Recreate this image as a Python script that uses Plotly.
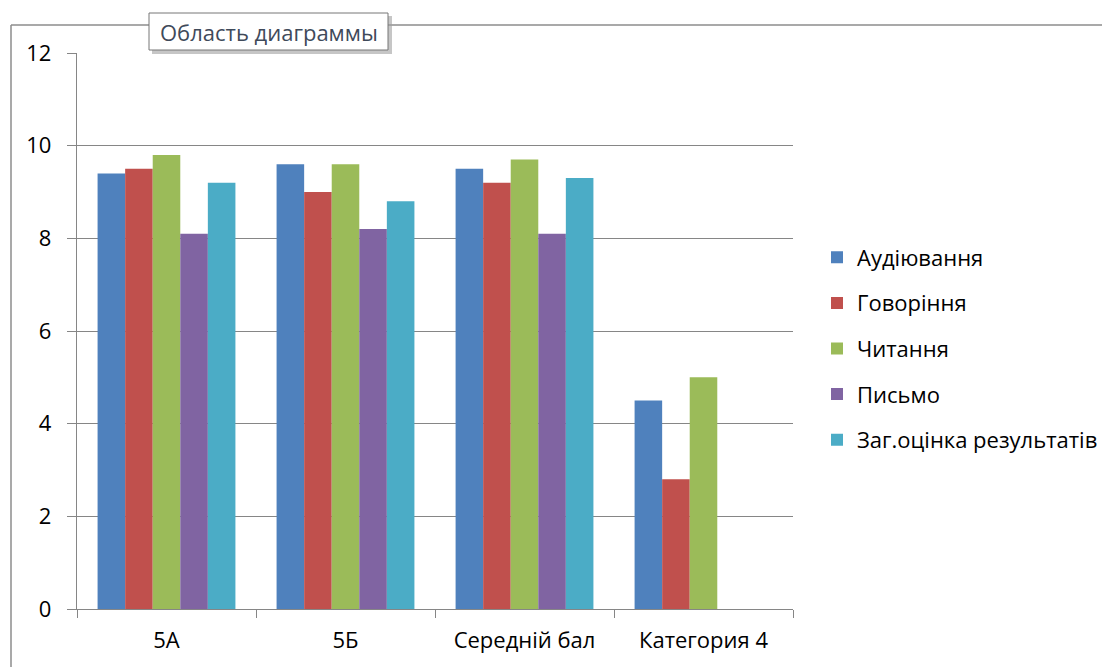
import plotly.graph_objects as go

categories = ["5А", "5Б", "Середній бал", "Категория 4"]
series_names = ["Аудіювання", "Говоріння", "Читання", "Письмо", "Заг.оцінка результатів"]
audiyuvannya = [9.4, 9.6, 9.5, 4.5]
hovorinnya = [9.5, 9.0, 9.2, 2.8]
chytannya = [9.8, 9.6, 9.7, 5.0]
pysmo = [8.1, 8.2, 8.1, None]
zah_otsinka = [9.2, 8.8, 9.3, None]
y_ticks = [0, 2, 4, 6, 8, 10, 12]

series_values = [audiyuvannya, hovorinnya, chytannya, pysmo, zah_otsinka]
colors = ["#4F81BD", "#C0504D", "#9BBB59", "#8064A2", "#4BACC6"]

FONT = "Open Sans"
FS = 22
OFF = 8  # page body margin
W, H = 1110 - OFF, 667 - OFF
L, R, T, B = 77 - OFF, 793 - OFF, 53 - OFF, 609 - OFF

fig = go.Figure()
for name, vals, col in zip(series_names, series_values, colors):
    fig.add_trace(go.Bar(x=categories, y=vals, name=name, marker_color=col,
                         marker_line_width=0, legendgroup=name))

def px(x):
    return (x - OFF - L) / (R - L)

def py(y):
    return (B - (y - OFF)) / (B - T)

shapes = [
    dict(type="line", xref="paper", yref="paper", x0=px(11), x1=px(1120), y0=py(25), y1=py(25),
         line=dict(color="#8C8C8C", width=1.5)),
    dict(type="line", xref="paper", yref="paper", x0=px(11), x1=px(11), y0=py(25), y1=py(680),
         line=dict(color="#8C8C8C", width=1.5)),
    dict(type="rect", xref="paper", yref="paper", x0=px(152), x1=px(392), y0=py(16), y1=py(54),
         fillcolor="#A0A0A0", line=dict(width=0), opacity=0.6),
    dict(type="rect", xref="paper", yref="paper", x0=px(149), x1=px(388), y0=py(13), y1=py(50),
         fillcolor="white", line=dict(color="#767676", width=1)),
]

annotations = [
    dict(text="Область диаграммы", xref="paper", yref="paper", x=px(268.5), y=py(32),
         xanchor="center", yanchor="middle", showarrow=False,
         font=dict(family=FONT, size=FS, color="#3F4A5A")),
]

fig.update_layout(
    width=W, height=H,
    margin=dict(l=L, r=W - R, t=T, b=H - B, pad=0, autoexpand=False),
    paper_bgcolor="white", plot_bgcolor="white",
    font=dict(family=FONT, size=FS, color="#000000"),
    barmode="group", bargap=0.23, bargroupgap=0,
    showlegend=True,
    legend=dict(x=px(817), xanchor="left", y=py(348.5), yanchor="middle",
                font=dict(family=FONT, size=FS, color="#000000"),
                tracegroupgap=14, itemwidth=30, bgcolor="rgba(0,0,0,0)"),
    shapes=shapes,
    annotations=annotations,
    xaxis=dict(type="category", showline=True, linecolor="#868686", linewidth=1.3,
               ticks="outside", tickson="boundaries", ticklen=8, tickcolor="#868686",
               showgrid=False, tickfont=dict(family=FONT, size=FS, color="#000000"),
               ticklabelstandoff=11),
    yaxis=dict(range=[0, 12], tickvals=y_ticks, showline=True, linecolor="#868686",
               linewidth=1.3, ticks="outside", ticklen=9, tickcolor="#868686",
               showgrid=True, gridcolor="#868686", gridwidth=1,
               zeroline=False, tickfont=dict(family=FONT, size=FS, color="#000000"),
               ticklabelstandoff=11),
)

fig.write_html("out.html")
